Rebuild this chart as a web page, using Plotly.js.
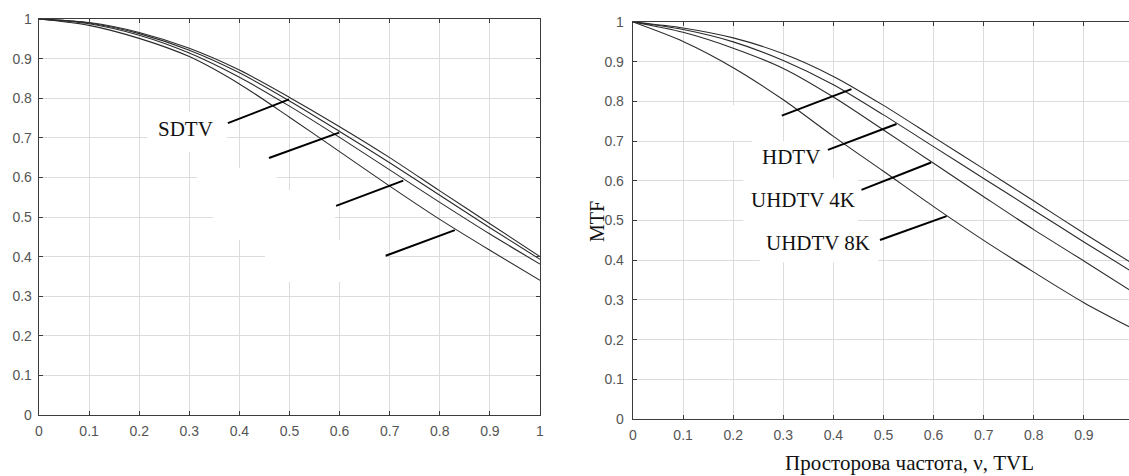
<!DOCTYPE html>
<html>
<head>
<meta charset="utf-8">
<script src="https://cdn.plot.ly/plotly-3.0.1.min.js"></script>
<style>
  html, body { margin: 0; padding: 0; background: #fff; overflow: hidden; }
  #chart { width: 1129px; height: 476px; }
</style>
</head>
<body>
<div id="chart"></div>
<script>
// ---- data ----
const freq = [0, 0.1, 0.2, 0.3, 0.4, 0.5, 0.6, 0.7, 0.8, 0.9, 1.0];

// left panel: four MTF curves (top to bottom)
const leftMtf1 = [1, 0.991, 0.966, 0.926, 0.871, 0.802, 0.728, 0.650, 0.566, 0.483, 0.400];
const leftMtf2 = [1, 0.990, 0.963, 0.921, 0.864, 0.793, 0.716, 0.637, 0.555, 0.473, 0.393];
const leftMtf3 = [1, 0.988, 0.959, 0.914, 0.853, 0.780, 0.701, 0.619, 0.537, 0.457, 0.381];
const leftMtf4 = [1, 0.984, 0.951, 0.905, 0.836, 0.752, 0.665, 0.578, 0.494, 0.416, 0.340];

// right panel: four MTF curves (top to bottom)
const rightMtf1 = [1, 0.985, 0.960, 0.920, 0.863, 0.790, 0.710, 0.630, 0.549, 0.468, 0.389];
const rightMtf2 = [1, 0.981, 0.950, 0.903, 0.842, 0.766, 0.686, 0.606, 0.526, 0.446, 0.368];
const rightMtf3 = [1, 0.974, 0.934, 0.883, 0.811, 0.728, 0.644, 0.560, 0.477, 0.398, 0.318];
const rightMtf4 = [1, 0.951, 0.885, 0.804, 0.712, 0.624, 0.535, 0.450, 0.370, 0.293, 0.226];

const leftLabel = 'SDTV';
const rightLabels = ['HDTV', 'UHDTV 4K', 'UHDTV 8K'];
const xTitle = 'Просторова частота, ν, TVL';
const yTitle = 'MTF';

// ---- figure ----
const W = 1129, H = 476;
const px = v => v / W;          // pixel -> paper x
const py = v => 1 - v / H;      // pixel -> paper y

const curveStyle = { color: '#2a2a2a', width: 1.1, shape: 'spline', smoothing: 0.8 };

function curve(y, xa, ya) {
  return { x: freq, y: y, xaxis: xa, yaxis: ya, type: 'scatter', mode: 'lines',
           line: curveStyle, hoverinfo: 'skip', showlegend: false };
}

const traces = [
  curve(leftMtf1, 'x', 'y'), curve(leftMtf2, 'x', 'y'),
  curve(leftMtf3, 'x', 'y'), curve(leftMtf4, 'x', 'y'),
  curve(rightMtf1, 'x2', 'y2'), curve(rightMtf2, 'x2', 'y2'),
  curve(rightMtf3, 'x2', 'y2'), curve(rightMtf4, 'x2', 'y2')
];

const tickFont = { family: 'Liberation Sans, Arial, sans-serif', size: 14, color: '#555555' };
const serif = 'Liberation Serif, Times New Roman, serif';

function axis(extra) {
  return Object.assign({
    showline: true, linecolor: '#3c3c3c', linewidth: 1.3,
    ticks: 'inside', ticklen: 4, tickcolor: '#3c3c3c', tickwidth: 1,
    showgrid: true, gridcolor: '#dcdcdc', gridwidth: 1,
    zeroline: false, tick0: 0, dtick: 0.1, tickfont: tickFont,
    fixedrange: true
  }, extra);
}

// white patches (erased labels in the source) drawn between grid and curves
function patch(xr, yr, x0, x1, y0, y1) {
  return { type: 'rect', xref: xr, yref: yr, x0: x0, x1: x1, y0: y0, y1: y1,
           fillcolor: '#ffffff', line: { width: 0 }, layer: 'between' };
}
function leader(xr, yr, x0, y0, x1, y1) {
  return { type: 'line', xref: xr, yref: yr, x0: x0, y0: y0, x1: x1, y1: y1,
           line: { color: '#000000', width: 2 }, layer: 'above' };
}

const shapes = [
  // left panel patches
  patch('x', 'y', 0.216, 0.375, 0.664, 0.765),
  patch('x', 'y', 0.315, 0.475, 0.568, 0.624),
  patch('x', 'y', 0.347, 0.591, 0.442, 0.568),
  patch('x', 'y', 0.451, 0.691, 0.336, 0.442),
  // right panel patches
  patch('x2', 'y2', 0.144, 0.297, 0.700, 0.790),
  patch('x2', 'y2', 0.238, 0.397, 0.607, 0.700),
  patch('x2', 'y2', 0.220, 0.449, 0.496, 0.607),
  patch('x2', 'y2', 0.253, 0.489, 0.395, 0.496),
  // left leaders
  leader('x', 'y', 0.377, 0.737, 0.499, 0.797),
  leader('x', 'y', 0.459, 0.649, 0.599, 0.713),
  leader('x', 'y', 0.593, 0.528, 0.727, 0.592),
  leader('x', 'y', 0.692, 0.402, 0.830, 0.467),
  // right leaders
  leader('x2', 'y2', 0.297, 0.764, 0.436, 0.831),
  leader('x2', 'y2', 0.389, 0.678, 0.526, 0.743),
  leader('x2', 'y2', 0.456, 0.577, 0.595, 0.646),
  leader('x2', 'y2', 0.493, 0.451, 0.626, 0.511)
];

const labelFont = { family: serif, size: 21, color: '#111111' };
function label(xr, yr, x, y, text) {
  return { xref: xr, yref: yr, x: x, y: y, text: text, showarrow: false,
           xanchor: 'center', yanchor: 'middle', font: labelFont };
}
const annotations = [
  label('x', 'y', 0.293, 0.722, leftLabel),
  label('x2', 'y2', 0.315, 0.660, rightLabels[0]),
  label('x2', 'y2', 0.339, 0.552, rightLabels[1]),
  label('x2', 'y2', 0.370, 0.443, rightLabels[2]),
  // axis titles of the right panel
  { xref: 'paper', yref: 'paper', x: px(909.5), y: py(463), xanchor: 'center', yanchor: 'middle',
    text: xTitle, showarrow: false, font: { family: serif, size: 21, color: '#111111' } },
  { xref: 'paper', yref: 'paper', x: px(597), y: py(222), xanchor: 'center', yanchor: 'middle',
    textangle: -90, text: yTitle, showarrow: false, font: { family: serif, size: 20, color: '#111111' } }
];

const layout = {
  width: W, height: H,
  margin: { l: 0, r: 0, t: 0, b: 0 },
  paper_bgcolor: '#ffffff', plot_bgcolor: '#ffffff',
  showlegend: false,
  xaxis: axis({ domain: [px(39), px(540)], range: [0, 1], anchor: 'y', mirror: 'ticks', ticklabelstandoff: 3 }),
  yaxis: axis({ domain: [py(415), py(19)], range: [0, 1], anchor: 'x', mirror: 'ticks', ticklabelstandoff: 3 }),
  xaxis2: axis({ domain: [px(633), 1], range: [0, 496 / 501], anchor: 'y2', mirror: 'ticks', ticklabelstandoff: 3 }),
  yaxis2: axis({ domain: [py(419), py(22)], range: [0, 1], anchor: 'x2', mirror: false, ticklabelstandoff: 5 }),
  shapes: shapes,
  annotations: annotations
};

Plotly.newPlot('chart', traces, layout, { staticPlot: true, displayModeBar: false });
</script>
</body>
</html>
